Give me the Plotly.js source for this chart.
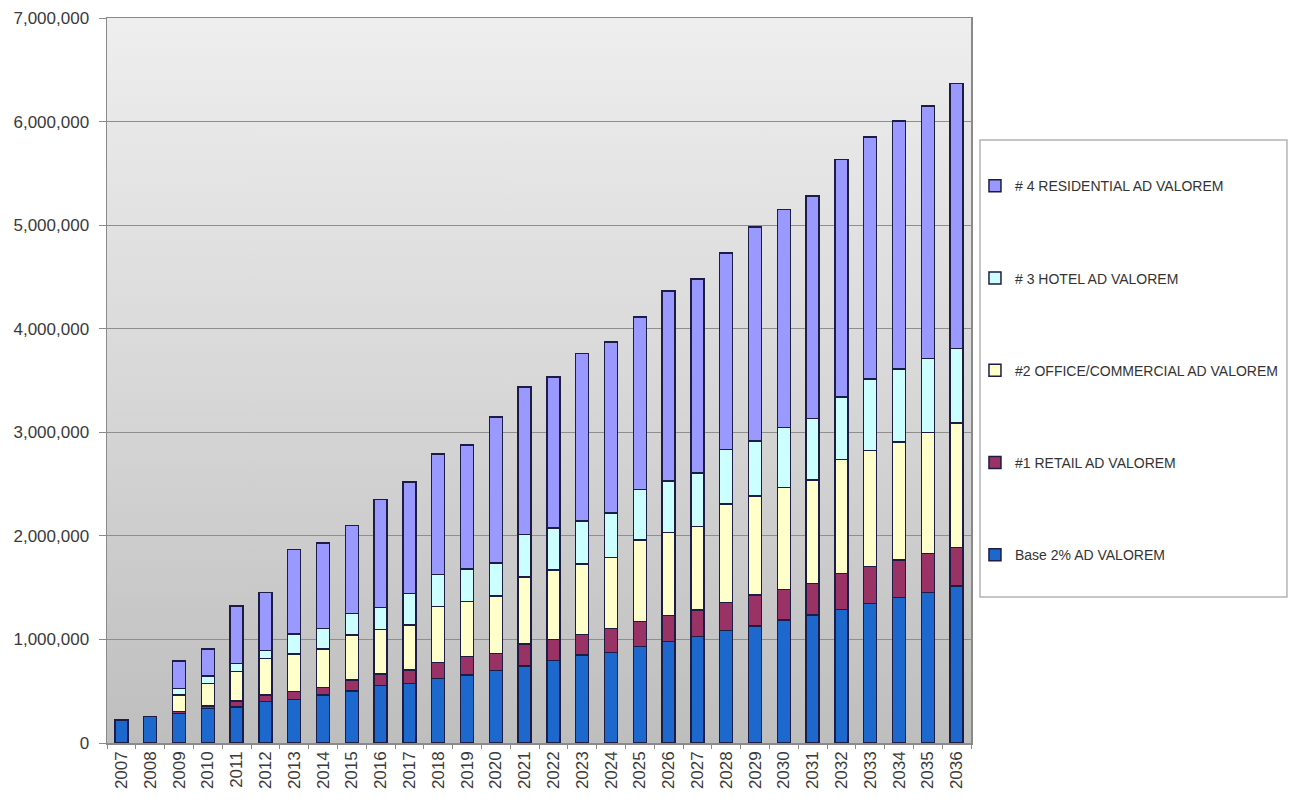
<!DOCTYPE html>
<html>
<head>
<meta charset="utf-8">
<script src="https://cdn.plot.ly/plotly-3.0.1.min.js"></script>
<style>
  html, body { margin: 0; padding: 0; background: #ffffff; }
  #chart { width: 1289px; height: 812px; }
</style>
</head>
<body>
<div id="chart"></div>
<script>
const years = ['2007','2008','2009','2010','2011','2012','2013','2014','2015','2016',
               '2017','2018','2019','2020','2021','2022','2023','2024','2025','2026',
               '2027','2028','2029','2030','2031','2032','2033','2034','2035','2036'];

const base = [222000, 254000, 285000, 335000, 350000, 399000, 422000, 463000, 502000, 553000,
              576000, 625000, 656000, 698000, 743000, 795000, 849000, 875000, 930000, 978000,
              1026000, 1084000, 1129000, 1187000, 1236000, 1290000, 1348000, 1403000, 1455000, 1515000];

const retail = [null, null, 20000, 22000, 55000, 64000, 73000, 75000, 106000, 113000,
                129000, 154000, 177000, 168000, 213000, 205000, 200000, 232000, 241000, 251000,
                258000, 274000, 300000, 297000, 305000, 348000, 354000, 363000, 376000, 374000];

const office = [null, null, 158000, 219000, 283000, 354000, 364000, 369000, 434000, 431000,
                434000, 537000, 531000, 553000, 649000, 670000, 679000, 682000, 788000, 805000,
                804000, 949000, 955000, 981000, 998000, 1100000, 1120000, 1142000, 1168000, 1203000];

const hotel = [null, null, 65000, 71000, 81000, 74000, 193000, 200000, 210000, 213000,
               306000, 312000, 316000, 321000, 409000, 408000, 415000, 434000, 490000, 495000,
               521000, 528000, 531000, 579000, 595000, 605000, 692000, 702000, 714000, 718000];

const residential = [null, null, 266000, 260000, 553000, 560000, 818000, 826000, 846000, 1040000,
                     1075000, 1162000, 1196000, 1410000, 1425000, 1458000, 1619000, 1647000, 1666000, 1837000,
                     1870000, 1898000, 2069000, 2108000, 2146000, 2291000, 2338000, 2394000, 2436000, 2558000];

const seriesNames = ['Base 2% AD VALOREM', '#1 RETAIL AD VALOREM', '#2 OFFICE/COMMERCIAL AD VALOREM',
                     '# 3 HOTEL AD VALOREM', '# 4 RESIDENTIAL AD VALOREM'];
const seriesValues = [base, retail, office, hotel, residential];
const seriesColors = ['#1d68cc', '#993366', '#ffffcc', '#ccffff', '#9999ff'];

const traces = seriesValues.map((vals, i) => ({
  type: 'bar',
  name: seriesNames[i],
  x: years,
  y: vals,
  legendgroup: 'g' + i,
  legendrank: 1000 - i,
  marker: { color: seriesColors[i], line: { color: '#1c1c44', width: 1.5 } },
  hoverinfo: 'x+y+name'
}));

const gradSvg = "<svg xmlns='http://www.w3.org/2000/svg' width='10' height='100' preserveAspectRatio='none'>" +
  "<defs><linearGradient id='g' x1='0' y1='0' x2='0' y2='1'>" +
  "<stop offset='0' stop-color='#eeeeee'/><stop offset='0.5' stop-color='#d8d8d8'/><stop offset='1' stop-color='#bebebe'/>" +
  "</linearGradient></defs><rect width='10' height='100' fill='url(#g)'/></svg>";
const gradUri = 'data:image/svg+xml;charset=utf-8,' + encodeURIComponent(gradSvg);

const layout = {
  width: 1289,
  height: 812,
  margin: { l: 107, r: 318, t: 18, b: 69, autoexpand: false },
  paper_bgcolor: '#ffffff',
  plot_bgcolor: '#d8d8d8',
  barmode: 'stack',
  bargap: 0.55,
  font: { family: 'Liberation Sans, Arial, sans-serif', color: '#3a3a3a' },
  showlegend: true,
  legend: {
    x: 1.0046, xanchor: 'left',
    y: 0.79, yanchor: 'top',
    traceorder: 'grouped',
    tracegroupgap: 71,
    bgcolor: 'rgba(0,0,0,0)',
    borderwidth: 0,
    font: { family: 'Liberation Sans, Arial, sans-serif', size: 14, color: '#333333' }
  },
  xaxis: {
    type: 'category',
    tickangle: -90,
    tickfont: { size: 17, color: '#3a3a3a' },
    showline: true, linecolor: '#8a8a8a', linewidth: 1.5, mirror: true,
    ticks: 'outside', tickson: 'boundaries', ticklen: 4, tickcolor: '#8a8a8a',
    showgrid: false,
    zeroline: false,
    fixedrange: true
  },
  yaxis: {
    range: [0, 7000000],
    dtick: 1000000,
    tickformat: ',d',
    tickfont: { size: 17, color: '#3a3a3a' },
    showline: true, linecolor: '#8a8a8a', linewidth: 1.5, mirror: true,
    ticks: 'outside', ticklen: 7, tickcolor: '#8a8a8a',
    ticklabelstandoff: 6,
    showgrid: true, gridcolor: '#8e8e8e', gridwidth: 1.2,
    zeroline: false,
    fixedrange: true
  },
  images: [{
    source: gradUri,
    xref: 'paper', yref: 'paper',
    x: 0, y: 1, sizex: 1, sizey: 1,
    xanchor: 'left', yanchor: 'top',
    sizing: 'stretch',
    layer: 'below'
  }],
  shapes: [{
    type: 'rect', xref: 'paper', yref: 'paper',
    x0: 1.0104, x1: 1.3657, y0: 0.2014, y1: 0.8317,
    fillcolor: '#ffffff',
    line: { color: '#b4b4b4', width: 1.5 },
    layer: 'below'
  }]
};

Plotly.newPlot('chart', traces, layout, { displayModeBar: false, staticPlot: true });
</script>
</body>
</html>
